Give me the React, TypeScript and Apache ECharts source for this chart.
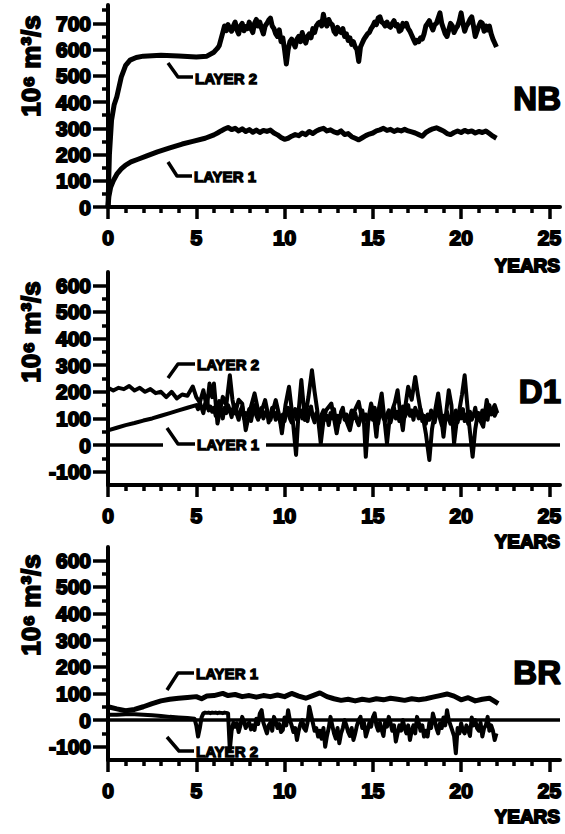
import React, { useEffect, useRef } from 'react';
import * as echarts from 'echarts';

const FONT = "'Liberation Sans', Arial, sans-serif";

const xMajorTicks = [0, 5, 10, 15, 20, 25];
const xMinorTicks = [1, 2, 3, 4, 6, 7, 8, 9, 11, 12, 13, 14, 16, 17, 18, 19, 21, 22, 23, 24];
const nbYMajor = [0, 100, 200, 300, 400, 500, 600, 700];
const nbYMinor = [50, 150, 250, 350, 450, 550, 650, 750];
const lowYMajor = [-100, 0, 100, 200, 300, 400, 500, 600];
const lowYMinor = [-50, 50, 150, 250, 350, 450, 550];

const panelNames = ['NB', 'D1', 'BR'];
const yTitle = '10⁶ m³/s';
const xTitle = 'YEARS';

// ---- NB ----
const nbLayer1EarlyYears = [0, 0.05, 0.15, 0.3, 0.5, 0.75, 1.0, 1.3, 1.7, 2.2, 2.8, 3.5, 4.2, 4.8, 5.5];
const nbLayer1EarlyValues = [0, 40, 75, 100, 125, 145, 160, 172, 182, 195, 210, 225, 240, 250, 262];
// from year 6.0 to 22.0, every 0.2 year
const nbLayer1LateValues = [
  275, 282, 290, 297, 303,
  295, 300, 290, 298, 288,
  295, 285, 293, 284, 292,
  288, 293, 282, 275, 265,
  258, 262, 270, 276, 272,
  282, 276, 288, 280, 290,
  296, 300, 290, 294, 286,
  282, 290, 276, 280, 268,
  262, 256, 264, 272, 278,
  282, 290, 294, 300, 292,
  296, 288, 294, 290, 296,
  290, 286, 282, 276, 270,
  284, 292, 298, 302, 296,
  290, 280, 276, 284, 290,
  284, 292, 286, 290, 282,
  288, 284, 290, 280, 270,
  262,
];

const nbLayer2EarlyYears = [0, 0.08, 0.2, 0.35, 0.5, 0.75, 1.0, 1.25, 1.6, 2.0, 3.0, 4.0, 5.0, 5.6];
const nbLayer2EarlyValues = [0, 200, 330, 390, 420, 495, 540, 560, 570, 575, 578, 576, 572, 575];
// from year 6.0 to 22.0, every 0.1 year
const nbLayer2LateValues = [
  590, 598, 605, 615, 640, 665, 690, 672, 695, 680,
  670, 690, 705, 675, 660, 690, 700, 672, 688, 680,
  705, 680, 665, 700, 715, 690, 705, 680, 660, 690,
  700, 712, 720, 690, 680, 660, 650, 675, 630, 645,
  600, 545, 600, 630, 640, 625, 610, 640, 650, 630,
  665, 640, 625, 650, 660, 645, 680, 665, 690, 700,
  705, 690, 735, 700, 690, 715, 700, 695, 670, 660,
  685, 670, 665, 680, 650, 660, 635, 645, 620, 630,
  610, 600, 555, 610, 625, 640, 650, 660, 665, 680,
  690, 705, 695, 720, 725, 705, 700, 690, 705, 690,
  685, 700, 710, 690, 695, 670, 675, 700, 690, 700,
  680, 670, 655, 640, 625, 635, 630, 645, 640, 660,
  690, 700, 710, 690, 675, 695, 700, 720, 740, 700,
  680, 660, 650, 675, 700, 690, 665, 680, 690, 710,
  740, 700, 670, 690, 700, 715, 725, 690, 650, 670,
  690, 705, 700, 670, 690, 675, 690, 660, 640, 625,
  610,
];

// ---- D1 ----
const d1Layer1EarlyYears = [0, 0.5, 1, 1.5, 2, 2.5, 3, 3.5, 4, 4.5];
const d1Layer1EarlyValues = [55, 65, 75, 83, 92, 100, 110, 120, 130, 140];
// from year 5.0 to 22.0, every 0.1 year
const d1Layer1LateValues = [
  150, 135, 160, 140, 120, 155, 170, 130, 145, 125,
  140, 110, 150, 165, 125, 100, 140, 120, 150, 130,
  105, 140, 150, 115, 95, 130, 145, 100, 120, 110,
  135, 90, 125, 150, 110, 95, 130, 140, 100, 120,
  130, 85, 110, 140, 120, 95, 125, 100, 80, 115,
  90, 125, 140, 100, 85, 120, 135, 95, 110, 130,
  100, 140, 115, 90, 130, 145, 105, 85, 120, 100,
  80, 115, 130, 95, 110, 75, 120, 100, 135, 90,
  110, 85, 125, 140, 95, 115, 80, 105, 130, 100,
  120, 90, 75, 110, 130, 95, 115, 85, 100, 125,
  95, 140, 110, 80, 120, 135, 100, 90, 115, 130,
  85, 110, 140, 100, 125, 90, 115, 145, 105, 120,
  150, 110, 130, 95, 140, 120, 100, 135, 90, 110,
  80, 115, 95, 130, 105, 85, 120, 140, 100, 75,
  110, 90, 125, 100, 80, 115, 95, 130, 85, 120,
  100, 135, 90, 115, 80, 125, 95, 110, 140, 100,
  120, 90, 130, 105, 140, 95, 150, 115, 130, 110,
  125,
];

const d1Layer2Years = [0, 0.3, 0.6, 0.9, 1.2, 1.5, 1.8, 2.1, 2.4, 2.7, 3.0, 3.3, 3.6, 3.9, 4.2, 4.5, 4.8, 5.0, 5.2, 5.4, 5.6, 5.75, 5.9, 6.0, 6.2, 6.5, 6.7, 6.9, 7.05, 7.2, 7.4, 7.6, 7.8, 8.0, 8.3, 8.5, 8.6, 8.9, 9.05, 9.2, 9.5, 9.7, 9.85, 10.05, 10.25, 10.45, 10.65, 10.8, 10.95, 11.15, 11.35, 11.55, 11.7, 11.85, 12.05, 12.2, 12.35, 12.65, 12.8, 12.95, 13.1, 13.3, 13.5, 13.7, 13.9, 14.2, 14.35, 14.5, 14.6, 14.75, 14.9, 15.05, 15.2, 15.35, 15.5, 15.65, 15.8, 15.95, 16.1, 16.25, 16.4, 16.55, 16.7, 16.85, 17.0, 17.2, 17.4, 17.55, 17.7, 17.85, 18.0, 18.2, 18.35, 18.5, 18.7, 18.85, 19.0, 19.15, 19.3, 19.45, 19.6, 19.75, 19.9, 20.05, 20.2, 20.35, 20.45, 20.65, 20.8, 20.95, 21.1, 21.25, 21.45, 21.6, 21.75, 21.9, 22.05];
const d1Layer2Values = [215, 205, 215, 210, 222, 205, 215, 200, 210, 195, 200, 180, 200, 175, 190, 185, 220, 180, 160, 206, 140, 231, 180, 231, 81, 181, 150, 262, 170, 119, 170, 156, 56, 120, 194, 130, 106, 169, 120, 94, 169, 110, 44, 150, 219, 106, -37, 130, 244, 94, 180, 281, 200, 131, 6, 90, 131, 156, 100, 44, 100, 119, 90, 56, 120, 162, 110, 81, -44, 100, 156, 120, 31, 140, 194, 100, 6, 100, 131, 160, 206, 120, 56, 150, 219, 170, 256, 190, 131, 100, 44, -56, 60, 119, 194, 120, 31, 120, 206, 150, 6, 90, 131, 190, 262, 150, 81, -44, 60, 119, 90, 69, 169, 120, 131, 150, 120];

// ---- BR ----
const brLayer1Years = [0, 0.5, 1.0, 1.5, 2.0, 2.5, 3.0, 3.5, 4.0, 4.5, 5.0, 5.3, 5.6, 6.0, 6.5, 6.8, 7.2, 7.6, 8.0, 8.4, 8.8, 9.2, 9.6, 10.0, 10.4, 10.8, 11.2, 11.6, 12.0, 12.4, 12.8, 13.2, 13.6, 14.0, 14.4, 14.8, 15.2, 15.6, 16.0, 16.4, 16.8, 17.2, 17.6, 18.0, 18.4, 18.8, 19.2, 19.6, 20.0, 20.4, 20.8, 21.2, 21.6, 21.9, 22.1];
const brLayer1Values = [50, 42, 35, 40, 50, 62, 72, 78, 82, 85, 88, 80, 90, 92, 100, 92, 96, 88, 92, 86, 92, 88, 94, 88, 100, 90, 82, 92, 102, 88, 80, 74, 78, 72, 78, 74, 80, 76, 82, 78, 74, 80, 76, 80, 86, 92, 98, 90, 76, 84, 72, 78, 82, 70, 62];

const brLayer2EarlyYears = [0, 0.5, 1.0, 1.5, 2.0, 2.5, 3.0, 3.5, 4.0, 4.5, 4.9];
const brLayer2EarlyValues = [20, 20, 22, 22, 20, 18, 15, 12, 10, 8, 5];
// from year 5.0 to 22.0, every 0.1 year
const brLayer2LateValues = [
  -20, -62, -30, 10, 25, 28, 27, 28, 26, 28,
  27, 28, 26, 28, 27, 26, 28, 27, 25, -112,
  -40, -10, -25, -12, -45, -20, 12, -5, -30, -15,
  -10, -35, -20, -37, 5, -15, 25, 37, -10, -30,
  -50, -20, -10, -40, 12, -5, -30, -15, -45, -37,
  10, -20, 37, 0, -20, -45, -30, -75, -40, -15,
  0, -30, -40, -10, 50, 20, -10, -40, -30, -62,
  -40, -70, -30, -100, -60, -30, 12, -20, -50, -70,
  -30, -87, -50, -30, 0, -20, -45, -60, -30, -75,
  -50, -20, 0, 12, -30, -10, -62, -40, -10, -25,
  10, 25, -20, -40, -10, -37, -60, -5, -25, 12,
  -10, -40, -20, -81, -50, -20, -40, 0, -30, -50,
  -20, -75, -40, -20, -50, 12, -10, -40, -20, -62,
  -40, -62, -10, -30, 25, 0, -30, -50, -12, -30,
  10, -20, 37, 0, -20, -40, -60, -125, -30, -50,
  -12, -40, -50, -20, -37, -60, 10, -20, 0, -30,
  -40, -10, -62, -30, -20, 12, -40, -20, -40, -75,
  -50,
];

// uniform sampling grid for the regularly sampled stretches
const sampleYears = (start: number, step: number, count: number) =>
  Array.from({ length: count }, (_, i) => Math.round((start + i * step) * 100) / 100);

const zip = (xs: number[], ys: number[]) => xs.map((x, i) => [x, ys[i]]);

const BLACK = '#000';

export default function App() {
  const ref = useRef<HTMLDivElement>(null);

  useEffect(() => {
    if (!ref.current) return;
    const chart = echarts.init(ref.current, null, { renderer: 'svg' });

    const nbL1 = zip(
      [...nbLayer1EarlyYears, ...sampleYears(6, 0.2, nbLayer1LateValues.length)],
      [...nbLayer1EarlyValues, ...nbLayer1LateValues]
    );
    const nbL2 = zip(
      [...nbLayer2EarlyYears, ...sampleYears(6, 0.1, nbLayer2LateValues.length)],
      [...nbLayer2EarlyValues, ...nbLayer2LateValues]
    );
    const d1L1 = zip(
      [...d1Layer1EarlyYears, ...sampleYears(5, 0.1, d1Layer1LateValues.length)],
      [...d1Layer1EarlyValues, ...d1Layer1LateValues]
    );
    const d1L2 = zip(d1Layer2Years, d1Layer2Values);
    const brL1 = zip(brLayer1Years, brLayer1Values);
    const brL2 = zip(
      [...brLayer2EarlyYears, ...sampleYears(5, 0.1, brLayer2LateValues.length)],
      [...brLayer2EarlyValues, ...brLayer2LateValues]
    );

    const grids = [
      { left: 108, right: 0, top: 5, height: 202 },
      { left: 108, right: 0, top: 272, height: 213 },
      { left: 108, right: 0, top: 547, height: 213 },
    ];
    const yRanges = [
      { min: 0, max: 770, major: nbYMajor, minor: nbYMinor },
      { min: -150, max: 650, major: lowYMajor, minor: lowYMinor },
      { min: -150, max: 650, major: lowYMajor, minor: lowYMinor },
    ];

    const labelStyle = {
      color: BLACK,
      fontFamily: FONT,
      fontWeight: 'bold' as const,
      fontSize: 21,
      textBorderColor: BLACK,
      textBorderWidth: 1.8,
    };

    const xAxis: any[] = [];
    const yAxis: any[] = [];
    grids.forEach((_, g) => {
      xAxis.push({
        type: 'value', gridIndex: g, min: 0, max: 25.6,
        axisLine: { show: true, onZero: false, lineStyle: { color: BLACK, width: 4 } },
        axisTick: { show: true, customValues: xMajorTicks, length: 12, lineStyle: { color: BLACK, width: 3.5 } },
        axisLabel: { show: true, customValues: xMajorTicks, margin: 20, ...labelStyle },
        splitLine: { show: false },
      });
      xAxis.push({
        type: 'value', gridIndex: g, min: 0, max: 25.6, position: 'bottom',
        axisLine: { show: false, onZero: false },
        axisTick: { show: true, customValues: xMinorTicks, length: 6, lineStyle: { color: BLACK, width: 3.5 } },
        axisLabel: { show: false },
        splitLine: { show: false },
      });
      const r = yRanges[g];
      yAxis.push({
        type: 'value', gridIndex: g, min: r.min, max: r.max,
        axisLine: { show: true, onZero: false, lineStyle: { color: BLACK, width: 4 } },
        axisTick: { show: true, customValues: r.major, length: 15, lineStyle: { color: BLACK, width: 3.5 } },
        axisLabel: { show: true, customValues: r.major, margin: 17, ...labelStyle },
        splitLine: { show: false },
      });
      yAxis.push({
        type: 'value', gridIndex: g, min: r.min, max: r.max, position: 'left',
        axisLine: { show: false, onZero: false },
        axisTick: { show: true, customValues: r.minor, length: 6, lineStyle: { color: BLACK, width: 3.5 } },
        axisLabel: { show: false },
        splitLine: { show: false },
      });
    });

    const zeroLine = {
      silent: true,
      symbol: 'none',
      label: { show: false },
      lineStyle: { color: BLACK, width: 3.5, type: 'solid' },
      data: [{ yAxis: 0 }],
    };

    const line = (name: string, g: number, data: number[][], width: number, extra: any = {}) => ({
      name,
      type: 'line',
      xAxisIndex: g * 2,
      yAxisIndex: g * 2,
      data,
      showSymbol: false,
      symbol: 'none',
      smooth: false,
      lineStyle: { color: BLACK, width, join: 'round' },
      itemStyle: { color: BLACK },
      z: 3,
      ...extra,
    });

    const series = [
      line('NB LAYER 1', 0, nbL1, 5),
      line('NB LAYER 2', 0, nbL2, 5),
      line('D1 LAYER 1', 1, d1L1, 4, { markLine: zeroLine }),
      line('D1 LAYER 2', 1, d1L2, 4),
      line('BR LAYER 1', 2, brL1, 5, { markLine: zeroLine }),
      line('BR LAYER 2', 2, brL2, 4),
    ];

    const yTitleCenters = [66, 332, 605];
    const yearsCenters = [265, 541, 816];
    const nameCenters = [98, 391, 672];

    const graphic: any[] = [];
    for (let g = 0; g < 3; g++) {
      graphic.push({
        type: 'text', x: 31, y: yTitleCenters[g], rotation: Math.PI / 2, z: 10,
        style: { text: yTitle, fill: BLACK, font: `bold 26px ${FONT}`, align: 'center', verticalAlign: 'middle', stroke: BLACK, lineWidth: 1.6 },
      });
      graphic.push({
        type: 'text', x: 560, y: yearsCenters[g], z: 10,
        style: { text: xTitle, fill: BLACK, font: `bold 19px ${FONT}`, align: 'right', verticalAlign: 'middle', stroke: BLACK, lineWidth: 1.8 },
      });
      graphic.push({
        type: 'text', x: 561, y: nameCenters[g], z: 10,
        style: { text: panelNames[g], fill: BLACK, font: `bold 33px ${FONT}`, align: 'right', verticalAlign: 'middle', stroke: BLACK, lineWidth: 1.6 },
      });
    }

    const annStyle = (t: string) => ({ text: t, fill: BLACK, font: `bold 15px ${FONT}`, align: 'left', verticalAlign: 'middle', stroke: BLACK, lineWidth: 1.3 });
    const leader = (pts: number[][]) => ({ type: 'polyline', z: 12, shape: { points: pts }, style: { stroke: BLACK, lineWidth: 3.5, fill: null, lineJoin: 'round' } });

    graphic.push(leader([[168, 63], [178, 77], [193, 77]]));
    graphic.push({ type: 'text', x: 195, y: 78, z: 12, style: annStyle('LAYER 2') });
    graphic.push(leader([[168, 162], [177, 176], [192, 176]]));
    graphic.push({ type: 'text', x: 194, y: 176, z: 12, style: annStyle('LAYER 1') });

    graphic.push(leader([[168, 378], [178, 364], [195, 364]]));
    graphic.push({ type: 'text', x: 197, y: 364, z: 12, style: annStyle('LAYER 2') });
    graphic.push({ type: 'rect', z: 11, shape: { x: 163, y: 438, width: 103, height: 14 }, style: { fill: '#fff' } });
    graphic.push(leader([[167, 428], [178, 444], [195, 444]]));
    graphic.push({ type: 'text', x: 197, y: 444, z: 12, style: annStyle('LAYER 1') });

    graphic.push(leader([[167, 690], [178, 673], [194, 673]]));
    graphic.push({ type: 'text', x: 196, y: 673, z: 12, style: annStyle('LAYER 1') });
    graphic.push(leader([[167, 737], [179, 751], [194, 751]]));
    graphic.push({ type: 'text', x: 196, y: 751, z: 12, style: annStyle('LAYER 2') });

    chart.setOption({
      animation: false,
      backgroundColor: '#fff',
      grid: grids,
      xAxis,
      yAxis,
      series,
      graphic,
    });

    return () => chart.dispose();
  }, []);

  return <div ref={ref} style={{ position: 'absolute', left: 0, top: 0, width: 565, height: 834 }} />;
}
